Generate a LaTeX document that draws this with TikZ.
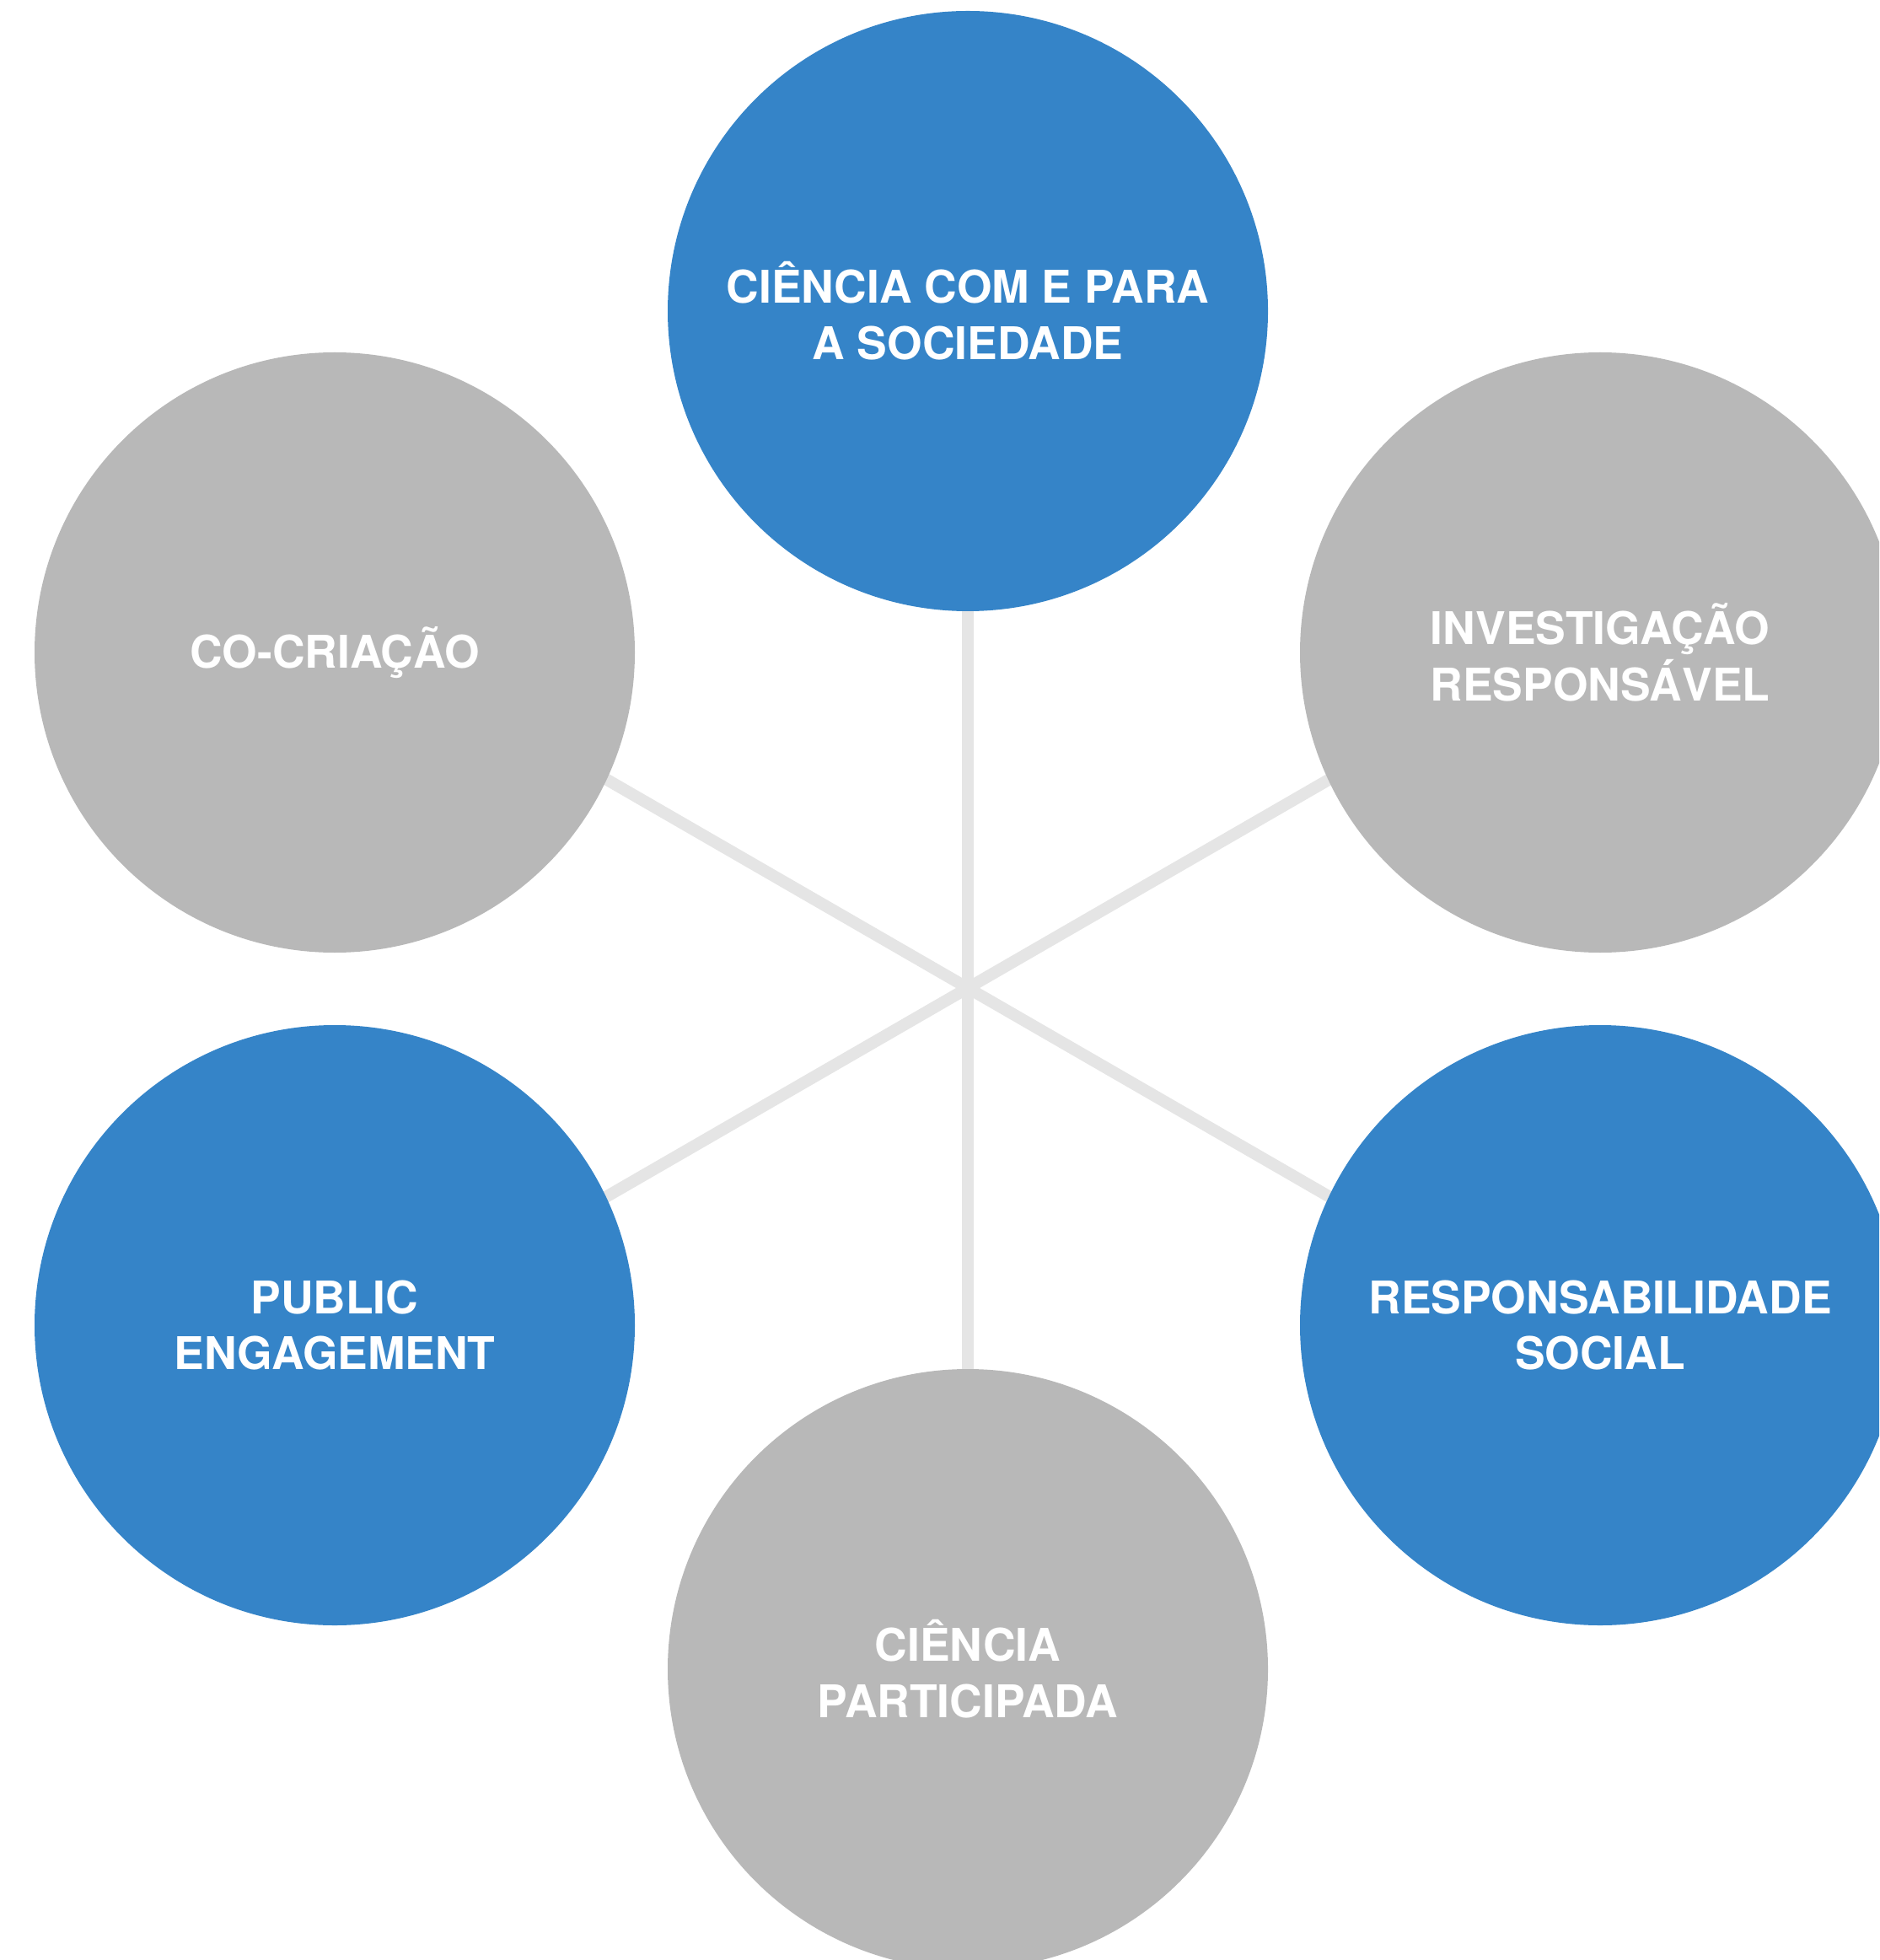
\documentclass[tikz,border=0pt]{standalone}
\usepackage{fontspec}
\setmainfont{TeX Gyre Heros}
\usetikzlibrary{backgrounds}
\definecolor{circblue}{RGB}{53,132,200}
\definecolor{circgray}{RGB}{184,184,184}
\definecolor{spokegray}{RGB}{229,229,229}
\tikzset{circ/.style = {circle, inner sep = 0, minimum size = 7.12cm, text = white, align = center, font = \fontsize{15.2}{19}\selectfont\bfseries}}
\tikzset{bluecirc/.style = {circ, fill = circblue}}
\tikzset{graycirc/.style = {circ, fill = circgray}}
\tikzset{spoke/.style = {draw = spokegray, line width = 4pt}}

\begin{document}
\begin{tikzpicture}
      \useasboundingbox (0, 0) rectangle (22.29, -23.25);
      \clip (0, 0) rectangle (22.29, -23.25);
      \coordinate (hub) at (11.48, -11.72);
      \node [bluecirc] (sociedade) at (11.48, -3.69) {CIÊNCIA COM E PARA\\A SOCIEDADE};
      \node [graycirc] (cocriacao) at (3.97, -7.74) {CO-CRIAÇÃO};
      \node [graycirc] (investigacao) at (18.98, -7.74) {INVESTIGAÇÃO\\RESPONSÁVEL};
      \node [bluecirc] (engagement) at (3.97, -15.72) {PUBLIC\\ENGAGEMENT};
      \node [bluecirc] (responsabilidade) at (18.98, -15.72) {RESPONSABILIDADE\\SOCIAL};
      \node [graycirc] (participada) at (11.48, -19.80) {CIÊNCIA\\PARTICIPADA};
      \begin{scope}[on background layer]
        \draw [spoke] (hub) -- (sociedade.center);
        \draw [spoke] (hub) -- (participada.center);
        \foreach \a in {30, 150, 210, 330} {
          \path (hub) ++(\a:7) coordinate (spoke\a);
          \draw [spoke] (hub) -- (spoke\a);
        }
      \end{scope}
    \end{tikzpicture}
\end{document}
